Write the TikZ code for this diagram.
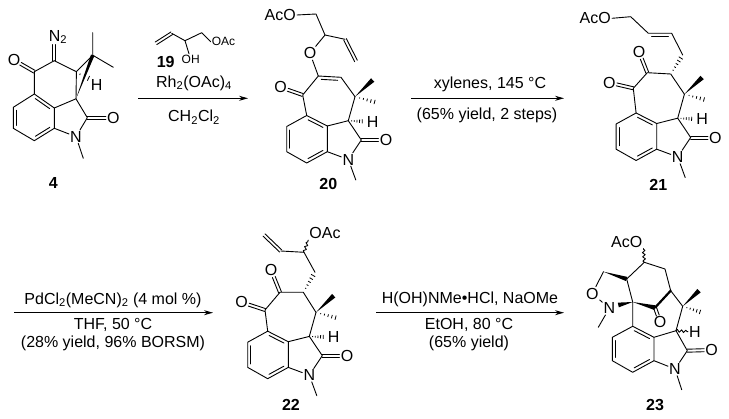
\documentclass[tikz,border=0pt]{standalone}
\usepackage{fontspec}
\setmainfont{Liberation Sans}
\usetikzlibrary{calc,arrows.meta,decorations.pathmorphing}
\newcommand\fs{\fontsize{16}{18}\selectfont}
\tikzset{
  bond/.style={line width=.9pt,line cap=round,line join=round},
  atom/.style={inner sep=1pt,font=\fs},
  small/.style={inner sep=1pt,font=\fontsize{12}{14}\selectfont},
  txt/.style={inner sep=0pt,font=\fs},
  lbl/.style={inner sep=0pt,font=\fs\bfseries},
  wavy/.style={bond,decorate,decoration={snake,amplitude=1.3pt,segment length=4.2pt}},
  rxn/.style={line width=.9pt,-{Stealth[length=9pt,width=5pt]}},
}
\newcommand\inb[3]{\draw[bond] ($(#1)!.14!(#2)!3.2pt!#3:(#2)$) -- ($(#2)!.14!(#1)!3.2pt!-#3:(#1)$);}
% double bond from a to b, its end at b cut back by #3
\newcommand\dbb[3]{%
  \draw[bond] ($(#1)!1.5pt!90:(#2)$) -- ($(#2)!#3!(#1)!1.5pt!-90:(#1)$);
  \draw[bond] ($(#1)!1.5pt!-90:(#2)$) -- ($(#2)!#3!(#1)!1.5pt!90:(#1)$);}
\newcommand\wdg[3]{\fill (#1) -- ($(#2)!#3pt!90:(#1)$) -- ($(#2)!#3pt!-90:(#1)$) -- cycle;}
\newcommand\hsh[3]{\foreach \hp in {.2,.36,.52,.68,.84,1}{%
  \pgfmathsetmacro\hw{#3*\hp}%
  \draw[line width=.8pt] ($(#1)!\hp!(#2)!\hw pt!90:(#2)$) -- ($(#1)!\hp!(#2)!\hw pt!-90:(#2)$);}}
\newcommand\corepart[3]{%
\begin{scope}[shift={(#2,#3)}]
 \coordinate (#1c) at (0,0);
 \coordinate (#1t) at (-20.6,-10.5);
 \coordinate (#1la) at (-40.6,.5);
 \coordinate (#1lb) at (-40.6,25.7);
 \coordinate (#1b) at (-20.6,37);
 \coordinate (#1r) at (0,25.7);
 \node[atom] (#1N) at (21,33.5) {N};
 \coordinate (#1co) at (34,14);
 \node[atom] (#1O) at (58.7,14) {O};
 \coordinate (#1me) at (28.5,54);
 \coordinate (#1ch) at (21,-5.3);
 \node[atom] (#1H) at (45.4,-4.3) {H};
 \coordinate (#1q) at (27.7,-29.3);
 \coordinate (#1qa) at (45.4,-46);
 \coordinate (#1qb) at (51,-23);
 \coordinate (#1hh) at ($(#1ch)!.68!(#1H)$);
 \draw[bond] (#1t)--(#1c)--(#1r)--(#1b)--(#1lb)--(#1la)--(#1t);
 \inb{#1t}{#1c}{-90}\inb{#1la}{#1lb}{90}\inb{#1b}{#1r}{90}
 \draw[bond] (#1r)--(#1N)--(#1co)--(#1ch)--(#1c);
 \draw[bond] (#1N)--(#1me);
 \dbb{#1co}{#1O}{7.5pt}
 \draw[bond] (#1ch)--(#1q);
 \wdg{#1q}{#1qa}{2.4}
 \hsh{#1q}{#1qb}{2.6}
 \hsh{#1ch}{#1hh}{2.4}
\end{scope}}
\begin{document}
\begin{tikzpicture}[x=1pt,y=-1pt]
\useasboundingbox (0,0) rectangle (729,419);
% ---- 4
\node[atom] (dN) at (58,37) {N\textsubscript{2}};
\coordinate (dNN) at (54.3,37);
\coordinate (dC) at (54.3,60.7);
\coordinate (kC) at (34.3,71.7);
\node[atom] (kO) at (14,60) {O};
\coordinate (cA) at (76.4,71.7);
\coordinate (cQ) at (92.7,55.2);
\coordinate (cB) at (76,98.8);
\coordinate (mA) at (92.7,32.7);
\coordinate (mB) at (113.3,67.3);
\coordinate (aT) at (34.3,94);
\coordinate (aC) at (54.3,108);
\coordinate (aL) at (13.3,107.3);
\coordinate (aM) at (13.3,128.3);
\coordinate (aB) at (34.3,140.7);
\coordinate (aR) at (54.3,128.3);
\node[atom] (fN) at (76,136.7) {N};
\coordinate (fC) at (87.3,117.7);
\node[atom] (fO) at (113.3,117.7) {O};
\coordinate (fM) at (83.3,158.3);
\node[atom] (fH) at (96.7,85) {H};
\coordinate (fH1) at (80,74.3);
\coordinate (fH2) at (88.5,78.3);
\dbb{dC}{dNN}{7.5pt}
\dbb{kC}{kO}{7.5pt}
\draw[bond] (dC)--(kC)--(aT)--(aC)--(aR)--(aB)--(aM)--(aL)--(aT);
\draw[bond] (dC)--(cA)--(cB)--(aC);
\draw[bond] (cA)--(cQ)--(mA);
\draw[bond] (cQ)--(mB);
\wdg{cB}{cQ}{1.8}
\draw[line width=.8pt] ($(fH1)!.8pt!90:(fH2)$) -- ($(fH1)!.8pt!-90:(fH2)$);
\draw[line width=.8pt] ($(fH2)!2.6pt!90:(fH1)$) -- ($(fH2)!2.6pt!-90:(fH1)$);
\draw[bond] (cB)--(fC)--(fN)--(aR);
\draw[bond] (fN)--(fM);
\dbb{fC}{fO}{7.5pt}
\inb{aT}{aC}{-90}\inb{aL}{aM}{90}\inb{aB}{aR}{90}
\node[lbl] (n4) at (53.3,183.3) {4};
% ---- reagent 19
\coordinate (vA) at (156,43.3);
\coordinate (vB) at (171.7,33.3);
\coordinate (vC) at (185,40.7);
\coordinate (vD) at (201.7,32.7);
\node[small] (vO) at (223.5,41.7) {OAc};
\node[small] (vH) at (190.7,59.3) {OH};
\draw[bond] (vB)--(vC)--(vD)--(vO.west);
\draw[bond] (vC)--(vH);
\dbb{vA}{vB}{0pt}
\node[lbl] (n19) at (165.7,62.3) {19};
% ---- arrow 1
\coordinate (a1s) at (138,98.3);
\coordinate (a1e) at (248,98.3);
\draw[rxn] (a1s)--(a1e);
\node[txt] (t1a) at (194,83) {Rh\textsubscript{2}(OAc)\textsubscript{4}};
\node[txt] (t1b) at (194,117) {CH\textsubscript{2}Cl\textsubscript{2}};
% ---- 20
\corepart{u}{327.3}{126}
\coordinate (uk) at (302.7,95);
\node[atom] (uko) at (280.7,87.3) {O};
\coordinate (ue) at (318.3,76);
\coordinate (uf) at (341,77.3);
\node[atom] (uo) at (310,53.3) {O};
\coordinate (ua) at (325,35);
\coordinate (ub) at (345,39.3);
\coordinate (ug) at (356,61);
\coordinate (ud) at (316,14);
\node[atom,anchor=east] (uac) at (297,15) {AcO};
\draw[bond] (ut)--(uk)--(ue);
\dbb{uk}{uko}{7.5pt}
\draw[bond] (ue)--(uf)--(uq);
\inb{ue}{uf}{-90}
\draw[bond] (ue)--(uo)--(ua)--(ub);
\dbb{ub}{ug}{0pt}
\draw[bond] (ua)--(ud)--(uac.east);
\node[lbl] (n20) at (328.3,184) {20};
% ---- arrow 2
\coordinate (a2s) at (411,98.3);
\coordinate (a2e) at (564,98.3);
\draw[rxn] (a2s)--(a2e);
\node[txt] (t2a) at (490,84) {xylenes, 145 °C};
\node[txt] (t2b) at (487,115) {(65\% yield, 2 steps)};
% ---- 21
\corepart{w}{656.7}{123.5}
\coordinate (wk) at (633.3,88.3);
\node[atom] (wko) at (609.3,82.7) {O};
\coordinate (wl) at (647.3,72.7);
\node[atom] (wlo) at (639,51.7) {O};
\coordinate (wm) at (670.7,74);
\coordinate (wn) at (682.7,55);
\coordinate (wp) at (671.7,33.3);
\coordinate (wr) at (648.3,33.3);
\coordinate (ws) at (630.7,16.7);
\node[atom,anchor=east] (wac) at (612,18.3) {AcO};
\draw[bond] (wt)--(wk)--(wl)--(wm)--(wq);
\dbb{wk}{wko}{7.5pt}
\dbb{wl}{wlo}{7.5pt}
\hsh{wm}{wn}{2.8}
\draw[bond] (wn)--(wp)--(wr)--(ws)--(wac.east);
\inb{wp}{wr}{90}
\node[lbl] (n21) at (658.3,185) {21};
% ---- arrow 3
\coordinate (a3s) at (14,312.7);
\coordinate (a3e) at (213,312.7);
\draw[rxn] (a3s)--(a3e);
\node[txt] (t3a) at (113,300) {PdCl\textsubscript{2}(MeCN)\textsubscript{2} (4 mol \%)};
\node[txt] (t3b) at (113,325) {THF, 50 °C};
\node[txt] (t3c) at (113,343) {(28\% yield, 96\% BORSM)};
% ---- 22
\corepart{x}{288.3}{341.7}
\coordinate (xk) at (265,310);
\node[atom] (xko) at (241.7,302.3) {O};
\coordinate (xl) at (280,292.3);
\node[atom] (xlo) at (271,270) {O};
\coordinate (xm) at (303.3,292.3);
\coordinate (xn) at (315,272.3);
\coordinate (xp) at (304,252.3);
\coordinate (xr) at (280.7,251);
\coordinate (xs) at (264,235);
\node[atom] (xac) at (325,233.3) {OAc};
\draw[bond] (xt)--(xk)--(xl)--(xm)--(xq);
\dbb{xk}{xko}{7.5pt}
\dbb{xl}{xlo}{7.5pt}
\hsh{xm}{xn}{2.8}
\draw[bond] (xn)--(xp)--(xr);
\dbb{xr}{xs}{0pt}
\draw[wavy] (xp)--(xac.south west);
\node[lbl] (n22) at (291,405) {22};
% ---- arrow 4
\coordinate (a4s) at (376,312.7);
\coordinate (a4e) at (564,312.7);
\draw[rxn] (a4s)--(a4e);
\node[txt] (t4a) at (470,299) {H(OH)NMe•HCl, NaOMe};
\node[txt] (t4b) at (469,325) {EtOH, 80 °C};
\node[txt] (t4c) at (469,343) {(65\% yield)};
% ---- 23
\coordinate (zc) at (654,337.3);
\coordinate (zt) at (632.7,326.3);
\coordinate (zla) at (612.3,337.3);
\coordinate (zlb) at (612.3,360.7);
\coordinate (zb) at (632.7,372.3);
\coordinate (zr) at (654,360.7);
\node[atom] (zN) at (675,369) {N};
\coordinate (zco) at (687.3,350.7);
\node[atom] (zO) at (711.7,350) {O};
\coordinate (zme) at (681.7,389.7);
\coordinate (zch) at (676,330.7);
\node[atom] (zH) at (695,332.3) {H};
\coordinate (zq) at (682.7,306.3);
\coordinate (zqa) at (699,290.7);
\coordinate (zqb) at (703.3,313);
\coordinate (zbr) at (670.7,290.7);
\coordinate (zd) at (665,269);
\coordinate (ze) at (644.3,262.3);
\node[atom] (zac) at (626.7,241.7) {AcO};
\coordinate (zf) at (626.7,279);
\coordinate (zg) at (603.5,271.7);
\node[atom] (zo) at (592.3,293.5) {O};
\node[atom] (zn) at (609.3,308.3) {N};
\coordinate (znm) at (598.3,327.3);
\coordinate (zs) at (632.7,302);
\coordinate (znw) at (618.3,305);
\coordinate (zk) at (655,307.7);
\node[atom] (zko) at (660,321.7) {O};
\draw[bond] (zt)--(zc)--(zr)--(zb)--(zlb)--(zla)--(zt);
\inb{zt}{zc}{-90}\inb{zla}{zlb}{90}\inb{zb}{zr}{90}
\draw[bond] (zr)--(zN)--(zco)--(zch)--(zc);
\draw[bond] (zN)--(zme);
\dbb{zco}{zO}{7.5pt}
\draw[wavy] (zch)--(zH);
\draw[bond] (zch)--(zq)--(zbr)--(zd)--(ze)--(zf)--(zs)--(zt);
\wdg{zq}{zqa}{2.4}
\hsh{zq}{zqb}{2.6}
\draw[wavy] (ze)--(zac.south east);
\wdg{zg}{zf}{2.2}
\draw[bond] (zg)--(zo)--(zn)--(znm);
\wdg{zs}{znw}{2.4}
\wdg{zs}{zk}{2.4}
\draw[line width=2.2pt,line cap=round] (zk)--(zbr);
\dbb{zk}{zko}{6.5pt}
\node[lbl] (n23) at (655,405) {23};
\end{tikzpicture}
\end{document}
